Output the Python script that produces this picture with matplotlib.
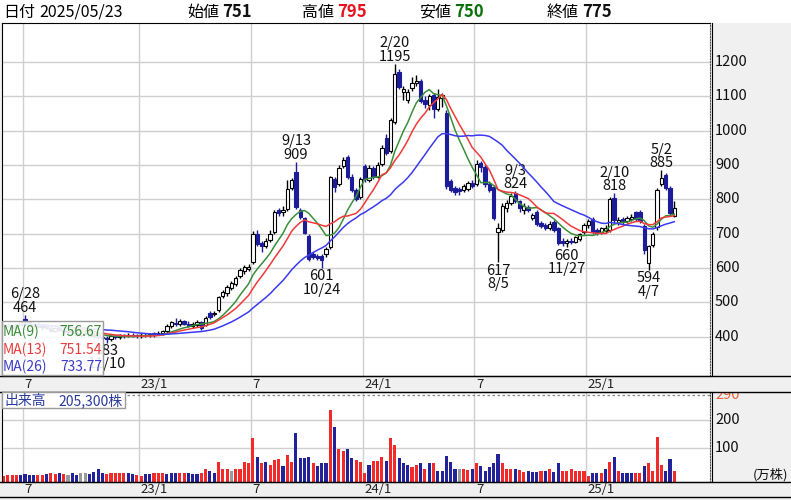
import matplotlib
matplotlib.use('Agg')
import matplotlib.pyplot as plt
from matplotlib.patches import Rectangle
from matplotlib.lines import Line2D
import numpy as np
import pandas as pd

plt.rcParams['font.family'] = ['Noto Sans CJK JP', 'DejaVu Sans']

# ---- weekly data (week 0 = week ending 2022-07-01) ----
weeks = np.arange(-5, 152)
dates = pd.date_range('2022-05-27', periods=len(weeks), freq='W-FRI')

opens = [430, 434, 430, 426, 434, 452, 442, 432, 436, 428,
         432, 424, 418, 424, 420, 414, 418, 412, 406, 412,
         408, 402, 406, 398, 396, 392, 402, 400, 404, 402,
         406, 404, 402, 406, 404, 410, 410, 412, 416, 430,
         440, 436, 446, 438, 430, 434, 442, 434, 468, 466,
         478, 520, 526, 542, 554, 576, 590, 598, 618, 700,
         672, 664, 682, 704, 768, 762, 772, 834, 880, 768,
         745, 692, 640, 636, 636, 640, 660, 858, 846, 896,
         924, 866, 826, 808, 896, 856, 890, 866, 902, 980,
         940, 1024, 1170, 1114, 1090, 1124, 1140, 1144, 1090, 1074,
         1104, 1064, 1096, 1052, 852, 832, 830, 828, 830, 848,
         846, 906, 894, 846, 836, 706, 712, 774, 790, 818,
         794, 770, 778, 746, 764, 730, 724, 718, 734, 716,
         678, 674, 680, 676, 684, 706, 724, 742, 712, 704,
         708, 712, 804, 734, 744, 738, 742, 762, 764, 722,
         616, 666, 720, 846, 870, 834, 751]
highs = [438, 440, 436, 438, 446, 464, 446, 440, 442, 436,
         438, 430, 428, 430, 426, 422, 424, 418, 416, 418,
         414, 410, 410, 404, 402, 406, 406, 408, 408, 410,
         410, 408, 410, 410, 412, 414, 416, 420, 436, 446,
         454, 452, 450, 446, 444, 448, 446, 460, 474, 476,
         520, 536, 552, 562, 578, 600, 610, 612, 708, 712,
         680, 688, 712, 768, 776, 780, 856, 862, 909, 776,
         750, 698, 648, 642, 640, 662, 868, 864, 900, 924,
         928, 874, 832, 866, 902, 900, 898, 908, 958, 990,
         1036, 1195, 1180, 1130, 1120, 1156, 1162, 1150, 1100, 1108,
         1110, 1120, 1110, 1060, 858, 838, 836, 846, 852, 856,
         915, 912, 900, 852, 842, 730, 790, 798, 818, 824,
         798, 788, 784, 760, 770, 736, 730, 736, 740, 720,
         688, 684, 688, 694, 702, 730, 742, 750, 718, 720,
         724, 806, 818, 748, 750, 752, 756, 766, 768, 728,
         668, 706, 832, 885, 876, 840, 795]
lows = [424, 428, 420, 422, 430, 438, 428, 424, 426, 420,
        422, 414, 414, 416, 410, 408, 410, 402, 400, 404,
        398, 396, 394, 390, 383, 388, 394, 394, 396, 398,
        398, 396, 396, 398, 398, 400, 404, 406, 412, 426,
        430, 432, 434, 428, 424, 428, 420, 430, 452, 460,
        472, 514, 520, 536, 548, 570, 584, 590, 612, 664,
        646, 658, 676, 700, 752, 752, 766, 828, 772, 742,
        698, 620, 626, 622, 601, 632, 656, 820, 840, 890,
        860, 820, 795, 800, 850, 850, 860, 862, 898, 930,
        936, 1018, 1120, 1090, 1080, 1116, 1130, 1080, 1066, 1060,
        1036, 1058, 1070, 830, 820, 812, 814, 820, 824, 834,
        840, 880, 836, 820, 740, 617, 706, 762, 784, 790,
        764, 758, 762, 740, 722, 716, 712, 712, 706, 666,
        664, 660, 670, 672, 678, 700, 718, 700, 696, 698,
        702, 706, 732, 726, 728, 730, 736, 738, 730, 640,
        594, 660, 712, 838, 828, 752, 750]
closes = [434, 430, 426, 436, 444, 442, 432, 436, 428, 432,
          424, 418, 424, 420, 414, 418, 412, 406, 412, 408,
          402, 406, 398, 396, 392, 402, 400, 404, 402, 406,
          404, 402, 406, 404, 408, 404, 412, 416, 432, 442,
          436, 446, 438, 432, 436, 442, 426, 454, 458, 468,
          516, 530, 544, 556, 572, 594, 602, 604, 700, 670,
          664, 680, 700, 762, 760, 770, 830, 856, 778, 750,
          702, 625, 632, 630, 622, 656, 864, 836, 892, 916,
          866, 826, 802, 860, 858, 892, 866, 900, 950, 936,
          1030, 1166, 1128, 1122, 1112, 1138, 1146, 1086, 1078, 1100,
          1062, 1098, 1104, 840, 828, 822, 824, 838, 848, 838,
          904, 894, 846, 826, 746, 716, 782, 790, 810, 796,
          776, 780, 770, 754, 728, 722, 718, 728, 712, 672,
          672, 678, 676, 690, 698, 726, 736, 706, 702, 716,
          718, 800, 740, 740, 736, 746, 748, 744, 738, 652,
          664, 700, 826, 862, 834, 760, 775]
# volume in 10k shares
volume = [2, 6, 6, 6, 6, 9, 6, 6, 6, 6,
          8, 12, 8, 12, 8, 6, 12, 6, 12, 12,
          9, 18, 29, 12, 9, 12, 12, 12, 12, 12,
          9, 6, 2, 8, 8, 12, 15, 15, 8, 12,
          12, 12, 12, 12, 8, 8, 12, 29, 21, 12,
          51, 26, 26, 21, 29, 26, 51, 47, 135, 68,
          47, 51, 41, 59, 62, 38, 77, 51, 156, 65,
          65, 68, 47, 38, 47, 47, 235, 174, 97, 92,
          97, 65, 59, 51, 15, 41, 55, 55, 68, 55,
          135, 112, 65, 47, 41, 33, 41, 49, 29, 47,
          47, 21, 21, 73, 53, 26, 26, 26, 24, 26,
          47, 38, 21, 33, 47, 82, 47, 29, 26, 29,
          24, 18, 21, 18, 18, 21, 21, 29, 18, 47,
          21, 21, 29, 21, 21, 21, 2, 12, 15, 15,
          26, 53, 68, 21, 12, 12, 12, 15, 12, 38,
          47, 21, 139, 41, 21, 61, 20.53]
# r = up week, b = down week, g = unchanged
vol_dir = ("rrrrbbbbrr" "brrbrgbbgg" "bbbbrrrrrb" "brrbbrrrbb" "brrbbbrrbb"
           "rrrgrrrrrb" "rbrrrbrrbb" "bbrbbbrbrr" "bbrrrbrrrb" "rrbbbrrbrb"
           "rbbbbbgrrb" "rbbbbbrrrb" "rrbbbrbrbb" "rrrrrrrbbr" "brbrbbbrrb"
           "rrrrbbr")

ma_periods = [9, 13, 26]
ma_colors = ['#3a8f3a', '#f03a3a', '#3a3af0']
ma_text_colors = ['#3c8c3c', '#e83c3c', '#3c3cc8']
ma_last = ['756.67', '751.54', '733.77']

peak_hi = [(0, '6/28', 464), (63, '9/13', 909), (86, '2/20', 1195),
           (114, '9/3', 824), (137, '2/10', 818), (148, '5/2', 885)]
peak_lo = [(19, '11/10', 383), (69, '10/24', 601), (110, '8/5', 617),
           (126, '11/27', 660), (145, '4/7', 594)]

price_ticks = [400, 500, 600, 700, 800, 900, 1000, 1100, 1200]
vol_ticks = [100, 200]
vol_max = 290

# ---- layout helpers (pixel coords, y from top) ----
W, H = 791, 500
fig = plt.figure(figsize=(W / 100, H / 100), dpi=100, facecolor='#f0f0f0')

def fx(x):
    return x / W

def fy(y):
    return 1 - y / H

def px_axes(x0, y0, x1, y1):
    return fig.add_axes([fx(x0), fy(y1), (x1 - x0) / W, (y1 - y0) / H])

def hline(y, x0=0, x1=W, **kw):
    fig.add_artist(Line2D([fx(x0), fx(x1)], [fy(y), fy(y)], transform=fig.transFigure, **kw))

XL = (-5.35, 159.3)
BLUE = '#1c1c98'
GRID = '#cfcfcf'
month = dates.month.values
new_month = np.r_[False, month[1:] != month[:-1]]
gidx = np.where(new_month & np.isin(month, [1, 7]))[0]
grid_w = weeks[gidx] - 0.5
grid_lab = ['7' if dates[i].month == 7 else f"{dates[i].year % 100}/1" for i in gidx]

o = np.array(opens, float); hi = np.array(highs, float)
lo = np.array(lows, float); c = np.array(closes, float)
up = c >= o

# header
fig.add_artist(Rectangle((0, fy(23)), 1, 23 / H, transform=fig.transFigure,
                         facecolor='white', edgecolor='none', zorder=0))
hfs = 11.5
fig.text(fx(3), fy(12), '日付', fontsize=hfs, va='center')
fig.text(fx(39), fy(12), dates[-1].strftime('%Y/%m/%d'), fontsize=hfs, va='center')
head = [('始値', opens[-1], '#111111', 187), ('高値', highs[-1], '#e8101c', 302),
        ('安値', lows[-1], '#0a700a', 419), ('終値', closes[-1], '#111111', 547)]
for lab, val, col, x in head:
    fig.text(fx(x), fy(12), lab, fontsize=hfs, va='center')
    fig.text(fx(x + 35), fy(12), str(val), fontsize=hfs + 0.5, va='center',
             fontweight='bold', color=col)

# ---- price panel ----
ax = px_axes(2, 23, 710, 376)
ax.set_facecolor('white')
ax.set_xlim(*XL)
ax.set_ylim(285.6, 1313.5)
for p in price_ticks:
    ax.axhline(p, color=GRID, lw=1, zorder=0)
for g in grid_w:
    ax.axvline(g, color=GRID, lw=1, zorder=0)
ax.vlines(weeks, lo, hi, colors=np.where(up, 'black', BLUE), lw=1, zorder=2)
bh = np.maximum(np.abs(c - o), 1.5)
bl = np.minimum(o, c)
ax.bar(weeks[up], bh[up], bottom=bl[up], width=0.78, color='white',
       edgecolor='black', linewidth=0.8, zorder=3)
ax.bar(weeks[~up], bh[~up], bottom=bl[~up], width=0.78, color=BLUE,
       edgecolor=BLUE, linewidth=0.8, zorder=3)
cs = pd.Series(c)
for n, col in zip(ma_periods, ma_colors):
    ax.plot(weeks, cs.rolling(n, min_periods=1).mean(), color=col, lw=1.1, zorder=4)
for w, d, v in peak_hi:
    ax.annotate(f"{d}\n{v}", xy=(w, v), xytext=(0, 0), textcoords='offset points',
                ha='center', va='bottom', fontsize=10.5, linespacing=0.95, color='#111111')
for w, d, v in peak_lo:
    ax.annotate(f"{v}\n{d}", xy=(w, v), xytext=(0, -1), textcoords='offset points',
                ha='center', va='top', fontsize=10.5, linespacing=0.95, color='#111111')
ax.set_xticks([]); ax.set_yticks([])
for s in ['left', 'top', 'bottom']:
    ax.spines[s].set_color('black')
ax.spines['right'].set_linestyle((0, (1, 1.5)))
ax.spines['right'].set_color('#555555')

# right strip for price
axr = px_axes(712, 23, 791, 376)
axr.set_facecolor('#f0f0f0')
axr.set_ylim(285.6, 1313.5); axr.set_xlim(0, 1)
axr.set_xticks([]); axr.set_yticks([])
for s in ['top', 'right', 'bottom']:
    axr.spines[s].set_visible(False)
for p in price_ticks:
    axr.text(3 / 79, p, str(p), fontsize=10.5, va='center', ha='left', color='#111111')

# MA legend box (semi-transparent, covers the oldest weeks)
fig.add_artist(Rectangle((fx(2), fy(375)), 101 / W, 54 / H, transform=fig.transFigure,
                         facecolor='white', alpha=0.9, edgecolor='none', zorder=5))
fig.add_artist(Rectangle((fx(2), fy(375)), 101 / W, 54 / H, transform=fig.transFigure,
                         facecolor='none', edgecolor='#9a9a9a', lw=1, zorder=6))
for k, (n, tc, val) in enumerate(zip(ma_periods, ma_text_colors, ma_last)):
    yy = [332, 349.5, 367][k]
    fig.text(fx(3), fy(yy), f"MA({n})", color=tc, fontsize=10, va='center', zorder=7)
    fig.text(fx(102), fy(yy), val, color=tc, fontsize=10, va='center', ha='right', zorder=7)

# ---- volume panel ----
VL = (-18.5, 299)
axv = px_axes(2, 392, 710, 482)
axv.set_facecolor('white')
axv.set_xlim(*XL); axv.set_ylim(*VL)
for v in vol_ticks:
    axv.axhline(v, color=GRID, lw=1, zorder=0)
for g in grid_w:
    axv.axvline(g, color=GRID, lw=1, zorder=0)
axv.axhline(vol_max, color='#8a8a8a', lw=0.9, ls=(0, (2, 2)), zorder=1)
vcols = {'r': '#f22a2a', 'b': '#22229a', 'g': '#9a9a9a'}
axv.bar(weeks, np.array(volume) - VL[0], bottom=VL[0], width=0.72,
        color=[vcols[d] for d in vol_dir], linewidth=0, zorder=2)
axv.set_xticks([]); axv.set_yticks([])
axv.spines['right'].set_linestyle((0, (1, 1.5)))
axv.spines['right'].set_color('#555555')

axvr = px_axes(712, 392, 791, 482)
axvr.set_facecolor('#f0f0f0')
axvr.set_ylim(*VL); axvr.set_xlim(0, 1)
axvr.set_xticks([]); axvr.set_yticks([])
for s in ['top', 'right', 'bottom']:
    axvr.spines[s].set_visible(False)
axvr.text(3 / 79, vol_max, str(vol_max), fontsize=10.5, va='center', color='#e8643c', clip_on=True)
for v in vol_ticks:
    axvr.text(3 / 79, v, str(v), fontsize=10.5, va='center', color='#111111')
axvr.text(0.97, 0.08, '(万株)', transform=axvr.transAxes, fontsize=9.5, ha='right',
          va='center', color='#111111')

# volume legend box
fig.add_artist(Rectangle((fx(2), fy(408)), 123 / W, 16 / H, transform=fig.transFigure,
                         facecolor='white', edgecolor='#9a9a9a', lw=1, zorder=5))
fig.text(fx(4), fy(400.5), '出来高', color='#2a3a9a', fontsize=10, va='center', zorder=7)
fig.text(fx(58), fy(400.5), f"{int(round(volume[-1] * 10000)):,}株", color='#2a3a9a',
         fontsize=10, va='center', zorder=7)

# ---- date bands ----
hline(376, 0, 791, color='black', lw=1)
hline(392, 0, 791, color='black', lw=1)
hline(482, 0, 791, color='black', lw=1)
hline(497, 0, 791, color='black', lw=1)
for g, lab in zip(grid_w, grid_lab):
    xp = 25 + 4.3 * g + 1.5
    fig.text(fx(xp), fy(384), lab, fontsize=9.5, va='center', ha='left', color='#222222')
    fig.text(fx(xp), fy(489.5), lab, fontsize=9.5, va='center', ha='left', color='#222222')

fig.savefig('out.png', dpi=100, facecolor=fig.get_facecolor())
